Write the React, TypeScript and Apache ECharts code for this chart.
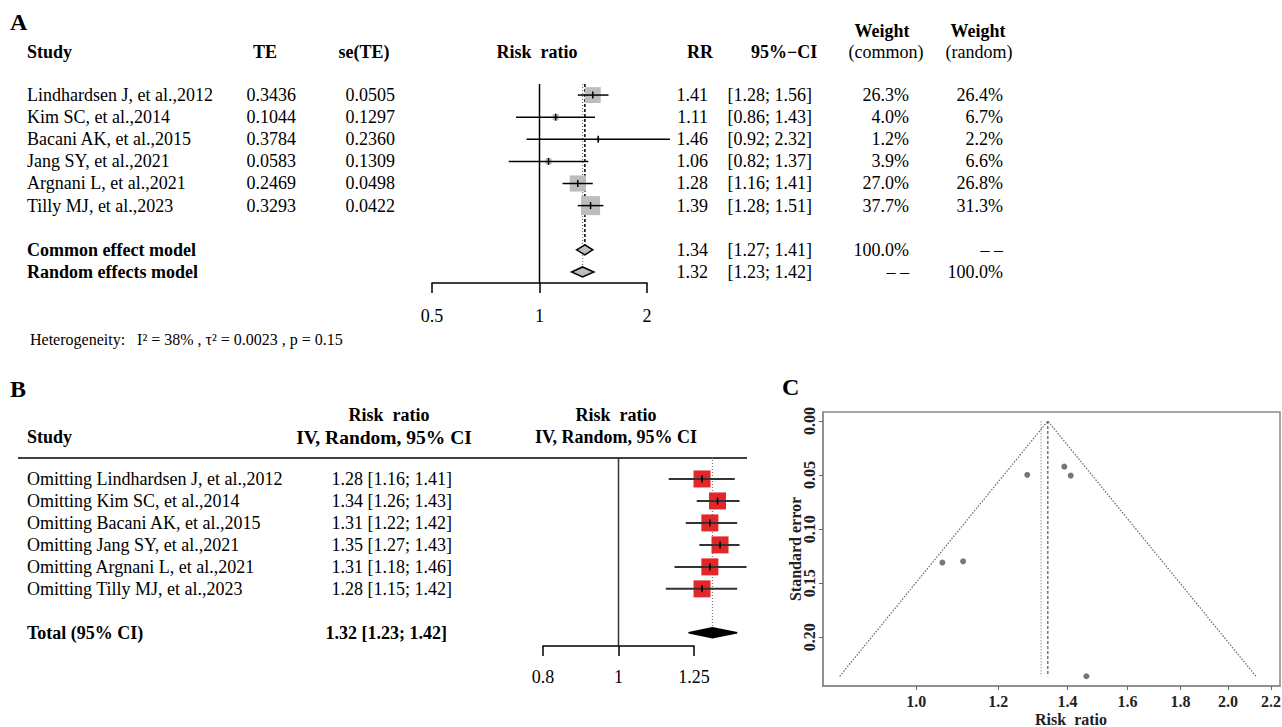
import React, { useEffect, useRef } from "react";
import * as echarts from "echarts";

const FONT = "'Liberation Serif', 'Times New Roman', serif";

// ---------- Panel A data ----------
const studies = [
  "Lindhardsen J, et al.,2012",
  "Kim SC, et al.,2014",
  "Bacani AK, et al.,2015",
  "Jang SY, et al.,2021",
  "Argnani L, et al.,2021",
  "Tilly MJ, et al.,2023",
];
const teValues = ["0.3436", "0.1044", "0.3784", "0.0583", "0.2469", "0.3293"];
const seValues = ["0.0505", "0.1297", "0.2360", "0.1309", "0.0498", "0.0422"];
const rrValues = [1.41, 1.11, 1.46, 1.06, 1.28, 1.39];
const ciLow = [1.28, 0.86, 0.92, 0.82, 1.16, 1.28];
const ciHigh = [1.56, 1.43, 2.32, 1.37, 1.41, 1.51];
const weightCommon = [26.3, 4.0, 1.2, 3.9, 27.0, 37.7];
const weightRandom = [26.4, 6.7, 2.2, 6.6, 26.8, 31.3];
const modelNames = ["Common effect model", "Random effects model"];
const modelRR = [1.34, 1.32];
const modelLow = [1.27, 1.23];
const modelHigh = [1.41, 1.42];
const modelWeightCommon = ["100.0%", "\u2013 \u2013"];
const modelWeightRandom = ["\u2013 \u2013", "100.0%"];

// ---------- Panel B data ----------
const looNames = studies.map((s) => "Omitting " + s);
const looRR = [1.28, 1.34, 1.31, 1.35, 1.31, 1.28];
const looLow = [1.16, 1.26, 1.22, 1.27, 1.18, 1.15];
const looHigh = [1.41, 1.43, 1.42, 1.43, 1.46, 1.42];
const totalRR = 1.32;
const totalLow = 1.23;
const totalHigh = 1.42;

// ---------- Panel C data ----------
const funnelTicksX = [1.0, 1.2, 1.4, 1.6, 1.8, 2.0, 2.2];
const funnelTicksY = [0, 0.05, 0.1, 0.15, 0.2];

const log2 = (v: number) => Math.log(v) / Math.LN2;
const logB = (v: number) => Math.log(v) / Math.log(1.25);
const fmt2 = (v: number) => v.toFixed(2);

function txt(text: string, x: number, y: number, o: any = {}) {
  return {
    type: "text",
    x,
    y,
    rotation: o.rotation || 0,
    silent: true,
    style: {
      text,
      fill: o.color || "#000",
      fontFamily: FONT,
      fontSize: o.size || 18,
      fontWeight: o.bold ? "bold" : "normal",
      align: o.align || "left",
      verticalAlign: "middle",
    },
  };
}

function vline(data: number[][], style: any, xi: number, yi: number) {
  return {
    type: "custom",
    xAxisIndex: xi,
    yAxisIndex: yi,
    clip: false,
    silent: true,
    data,
    encode: { x: 0, y: [1, 2] },
    renderItem: (_p: any, api: any) => {
      const a = api.coord([api.value(0), api.value(1)]);
      const b = api.coord([api.value(0), api.value(2)]);
      return { type: "line", shape: { x1: a[0], y1: a[1], x2: b[0], y2: b[1] }, style };
    },
  };
}

function forestRows(data: number[][], xi: number, yi: number, fill: string, lineColor: string, lineWidth: number) {
  return {
    type: "custom",
    xAxisIndex: xi,
    yAxisIndex: yi,
    clip: false,
    silent: true,
    data,
    encode: { x: [1, 2, 3], y: 0 },
    renderItem: (_p: any, api: any) => {
      const y = api.value(0);
      const lo = api.coord([api.value(1), y]);
      const hi = api.coord([api.value(2), y]);
      const c = api.coord([api.value(3), y]);
      const s = api.value(4);
      return {
        type: "group",
        children: [
          { type: "rect", shape: { x: c[0] - s / 2, y: c[1] - s / 2, width: s, height: s }, style: { fill } },
          { type: "line", shape: { x1: lo[0], y1: lo[1], x2: hi[0], y2: hi[1] }, style: { stroke: lineColor, lineWidth } },
          { type: "line", shape: { x1: c[0], y1: c[1] - 3.5, x2: c[0], y2: c[1] + 3.5 }, style: { stroke: "#000", lineWidth: 1.5 } },
        ],
      };
    },
  };
}

function diamonds(data: number[][], xi: number, yi: number, fill: string, stroke: string) {
  return {
    type: "custom",
    xAxisIndex: xi,
    yAxisIndex: yi,
    clip: false,
    silent: true,
    data,
    encode: { x: [1, 2, 3], y: 0 },
    renderItem: (_p: any, api: any) => {
      const y = api.value(0);
      const l = api.coord([api.value(1), y]);
      const r = api.coord([api.value(2), y]);
      const c = api.coord([api.value(3), y]);
      const h = 5;
      return {
        type: "polygon",
        shape: { points: [[l[0], l[1]], [c[0], c[1] - h], [r[0], r[1]], [c[0], c[1] + h]] },
        style: { fill, stroke, lineWidth: 1.5 },
      };
    },
  };
}

function buildOption() {
  const g: any[] = [];
  // Panel labels
  g.push(txt("A", 10, 22, { bold: true, size: 24 }));
  g.push(txt("B", 10, 389, { bold: true, size: 24 }));
  g.push(txt("C", 782, 387, { bold: true, size: 24 }));

  // Panel A headers
  g.push(txt("Study", 27, 52, { bold: true }));
  g.push(txt("TE", 265, 52, { bold: true, align: "center" }));
  g.push(txt("se(TE)", 364, 52, { bold: true, align: "center" }));
  g.push(txt("Risk  ratio", 537, 52, { bold: true, align: "center" }));
  g.push(txt("RR", 700, 52, { bold: true, align: "center" }));
  g.push(txt("95%\u2212CI", 784, 52, { bold: true, align: "center" }));
  g.push(txt("Weight", 882, 31, { bold: true, align: "center" }));
  g.push(txt("(common)", 886, 52, { align: "center" }));
  g.push(txt("Weight", 978, 31, { bold: true, align: "center" }));
  g.push(txt("(random)", 979, 52, { align: "center" }));

  const rowA = (i: number) => 95 + 22.1 * i;
  studies.forEach((s, i) => {
    const y = rowA(i);
    g.push(txt(s, 27, y));
    g.push(txt(teValues[i], 296, y, { align: "right" }));
    g.push(txt(seValues[i], 395, y, { align: "right" }));
    g.push(txt(rrValues[i].toFixed(2), 708, y, { align: "right" }));
    g.push(txt(`[${ciLow[i].toFixed(2)}; ${ciHigh[i].toFixed(2)}]`, 812, y, { align: "right" }));
    g.push(txt(weightCommon[i].toFixed(1) + "%", 909, y, { align: "right" }));
    g.push(txt(weightRandom[i].toFixed(1) + "%", 1003, y, { align: "right" }));
  });
  modelNames.forEach((s, k) => {
    const y = rowA(7 + k);
    g.push(txt(s, 27, y, { bold: true }));
    g.push(txt(modelRR[k].toFixed(2), 708, y, { align: "right" }));
    g.push(txt(`[${modelLow[k].toFixed(2)}; ${modelHigh[k].toFixed(2)}]`, 812, y, { align: "right" }));
    g.push(txt(modelWeightCommon[k], 909, y, { align: "right" }));
    g.push(txt(modelWeightRandom[k], 1003, y, { align: "right" }));
  });
  g.push(txt("Heterogeneity:   I\u00B2 = 38% , \u03C4\u00B2 = 0.0023 , p = 0.15", 30, 339, { size: 16 }));

  // Panel B headers
  g.push(txt("Study", 27, 437, { bold: true }));
  g.push(txt("Risk  ratio", 389, 415, { bold: true, align: "center" }));
  g.push(txt("IV, Random, 95% CI", 384, 437, { bold: true, align: "center", size: 19.5 }));
  g.push(txt("Risk  ratio", 616, 415, { bold: true, align: "center" }));
  g.push(txt("IV, Random, 95% CI", 616, 437, { bold: true, align: "center" }));
  g.push({ type: "line", silent: true, shape: { x1: 18, y1: 458, x2: 747, y2: 458 }, style: { stroke: "#000", lineWidth: 1.5 } });
  const rowB = (i: number) => 479 + 22 * i;
  looNames.forEach((s, i) => {
    const y = rowB(i);
    g.push(txt(s, 27, y));
    g.push(txt(`${looRR[i].toFixed(2)} [${looLow[i].toFixed(2)}; ${looHigh[i].toFixed(2)}]`, 452, y, { align: "right" }));
  });
  g.push(txt("Total (95% CI)", 27, rowB(7), { bold: true }));
  g.push(txt(`${totalRR.toFixed(2)} [${totalLow.toFixed(2)}; ${totalHigh.toFixed(2)}]`, 447, rowB(7), { bold: true, align: "right" }));

  // Panel C titles
  g.push(txt("Standard error", 795, 549, { bold: true, size: 16, align: "center", rotation: Math.PI / 2, color: "#222" }));
  g.push(txt("Risk  ratio", 1071, 719, { bold: true, size: 16, align: "center", color: "#222" }));

  const seNum = seValues.map(Number);
  const teNum = teValues.map(Number);
  const maxSe = Math.max(...seNum);
  const tc = Math.log(modelRR[0]);
  const tr = Math.log(modelRR[1]);

  const axisBlack = { onZero: false, lineStyle: { color: "#000", width: 1.5 } };

  return {
    animation: false,
    backgroundColor: "#fff",
    textStyle: { fontFamily: FONT },
    graphic: { elements: g },
    grid: [
      { left: 432, top: 84, width: 215, height: 199, outerBoundsMode: "none" },
      { left: 543, top: 457, width: 151, height: 189, outerBoundsMode: "none" },
      {
        left: 823, top: 412, width: 457, height: 274, outerBoundsMode: "none",
        show: true, borderColor: "#8a8a8a", borderWidth: 1.5, backgroundColor: "transparent",
      },
    ],
    xAxis: [
      {
        gridIndex: 0, type: "value", min: -1, max: 1, interval: 1, position: "bottom",
        axisLine: axisBlack,
        axisTick: { length: 10, lineStyle: { color: "#000", width: 1.5 } },
        axisLabel: { margin: 24, color: "#000", fontSize: 18, fontFamily: FONT, formatter: (v: number) => String(+Math.pow(2, v).toFixed(2)) },
        splitLine: { show: false },
      },
      {
        gridIndex: 1, type: "value", min: -1, max: 1, interval: 1, position: "bottom",
        axisLine: axisBlack,
        axisTick: { length: 10, lineStyle: { color: "#000", width: 1.5 } },
        axisLabel: { margin: 22, color: "#000", fontSize: 18, fontFamily: FONT, formatter: (v: number) => String(+Math.pow(1.25, v).toFixed(2)) },
        splitLine: { show: false },
      },
      {
        gridIndex: 2, type: "value", min: Math.log(0.813), max: Math.log(2.245), position: "bottom",
        axisLine: { onZero: false, lineStyle: { color: "#8a8a8a", width: 1.5 } },
        axisTick: { length: 4, customValues: funnelTicksX.map(Math.log), lineStyle: { color: "#666", width: 1 } },
        axisLabel: {
          margin: 7, color: "#222", fontSize: 16, fontWeight: "bold", fontFamily: FONT,
          customValues: funnelTicksX.map(Math.log),
          formatter: (v: number) => Math.exp(v).toFixed(1),
        },
        splitLine: { show: false },
      },
    ],
    yAxis: [
      { gridIndex: 0, type: "value", inverse: true, min: -0.5, max: 8.5, show: false },
      { gridIndex: 1, type: "value", inverse: true, min: -1, max: 7.6, show: false },
      {
        gridIndex: 2, type: "value", inverse: true, min: -0.0083, max: 0.245, position: "left",
        axisLine: { show: true, onZero: false, lineStyle: { color: "#8a8a8a", width: 1.5 } },
        axisTick: { show: true, length: 4, customValues: funnelTicksY, lineStyle: { color: "#666", width: 1 } },
        axisLabel: {
          margin: 6, rotate: 90, color: "#222", fontSize: 16, fontWeight: "bold", fontFamily: FONT,
          customValues: funnelTicksY, formatter: (v: number) => fmt2(v),
        },
        splitLine: { show: false },
      },
    ],
    series: [
      // ---- Panel A ----
      vline([[0, -0.5, 8.5]], { stroke: "#000", lineWidth: 1.5 }, 0, 0),
      vline([[log2(modelRR[1]), -0.5, 8]], { stroke: "#777", lineWidth: 1.2, lineDash: [1, 2] }, 0, 0),
      vline([[log2(modelRR[0]), -0.5, 7]], { stroke: "#000", lineWidth: 1.5, lineDash: [3, 2] }, 0, 0),
      forestRows(
        studies.map((_, i) => [i, log2(ciLow[i]), log2(ciHigh[i]), log2(rrValues[i]), 3.1 * Math.sqrt(weightCommon[i])]),
        0, 0, "#bdbdbd", "#000", 1.5
      ),
      diamonds(modelRR.map((r, k) => [7 + k, log2(modelLow[k]), log2(modelHigh[k]), log2(r)]), 0, 0, "#bdbdbd", "#000"),
      // ---- Panel B ----
      vline([[0, -1, 7.6]], { stroke: "#333", lineWidth: 1.5 }, 1, 1),
      vline([[logB(totalRR), -1, 7]], { stroke: "#777", lineWidth: 1.2, lineDash: [1, 2] }, 1, 1),
      forestRows(
        looRR.map((r, i) => [i, logB(looLow[i]), logB(looHigh[i]), logB(r), 17]),
        1, 1, "#e3262a", "#333", 2
      ),
      diamonds([[7, logB(totalLow), logB(totalHigh), logB(totalRR)]], 1, 1, "#000", "#000"),
      // ---- Panel C ----
      {
        type: "line", xAxisIndex: 2, yAxisIndex: 2, silent: true, showSymbol: false, symbol: "none",
        data: [[tc - 1.96 * maxSe, maxSe], [tc, 0], [tc + 1.96 * maxSe, maxSe]],
        lineStyle: { color: "#666", width: 1.2, type: [1.5, 1.5] },
      },
      {
        type: "line", xAxisIndex: 2, yAxisIndex: 2, silent: true, showSymbol: false, symbol: "none",
        data: [[tr, 0], [tr, maxSe]],
        lineStyle: { color: "#999", width: 1, type: [1.5, 1.5] },
      },
      {
        type: "line", xAxisIndex: 2, yAxisIndex: 2, silent: true, showSymbol: false, symbol: "none",
        data: [[tc, 0], [tc, maxSe]],
        lineStyle: { color: "#555", width: 1.2, type: [3, 2] },
      },
      {
        type: "scatter", xAxisIndex: 2, yAxisIndex: 2, silent: true, symbolSize: 6,
        data: teNum.map((t, i) => [t, seNum[i]]),
        itemStyle: { color: "#555" },
      },
    ],
  };
}

export default function App() {
  const ref = useRef<HTMLDivElement>(null);
  useEffect(() => {
    const chart = echarts.init(ref.current!, null, { renderer: "svg" });
    chart.setOption(buildOption() as any);
    return () => chart.dispose();
  }, []);
  return (
    <div
      ref={ref}
      style={{ position: "absolute", left: 0, top: 0, width: 1282, height: 727, background: "#fff" }}
    />
  );
}
